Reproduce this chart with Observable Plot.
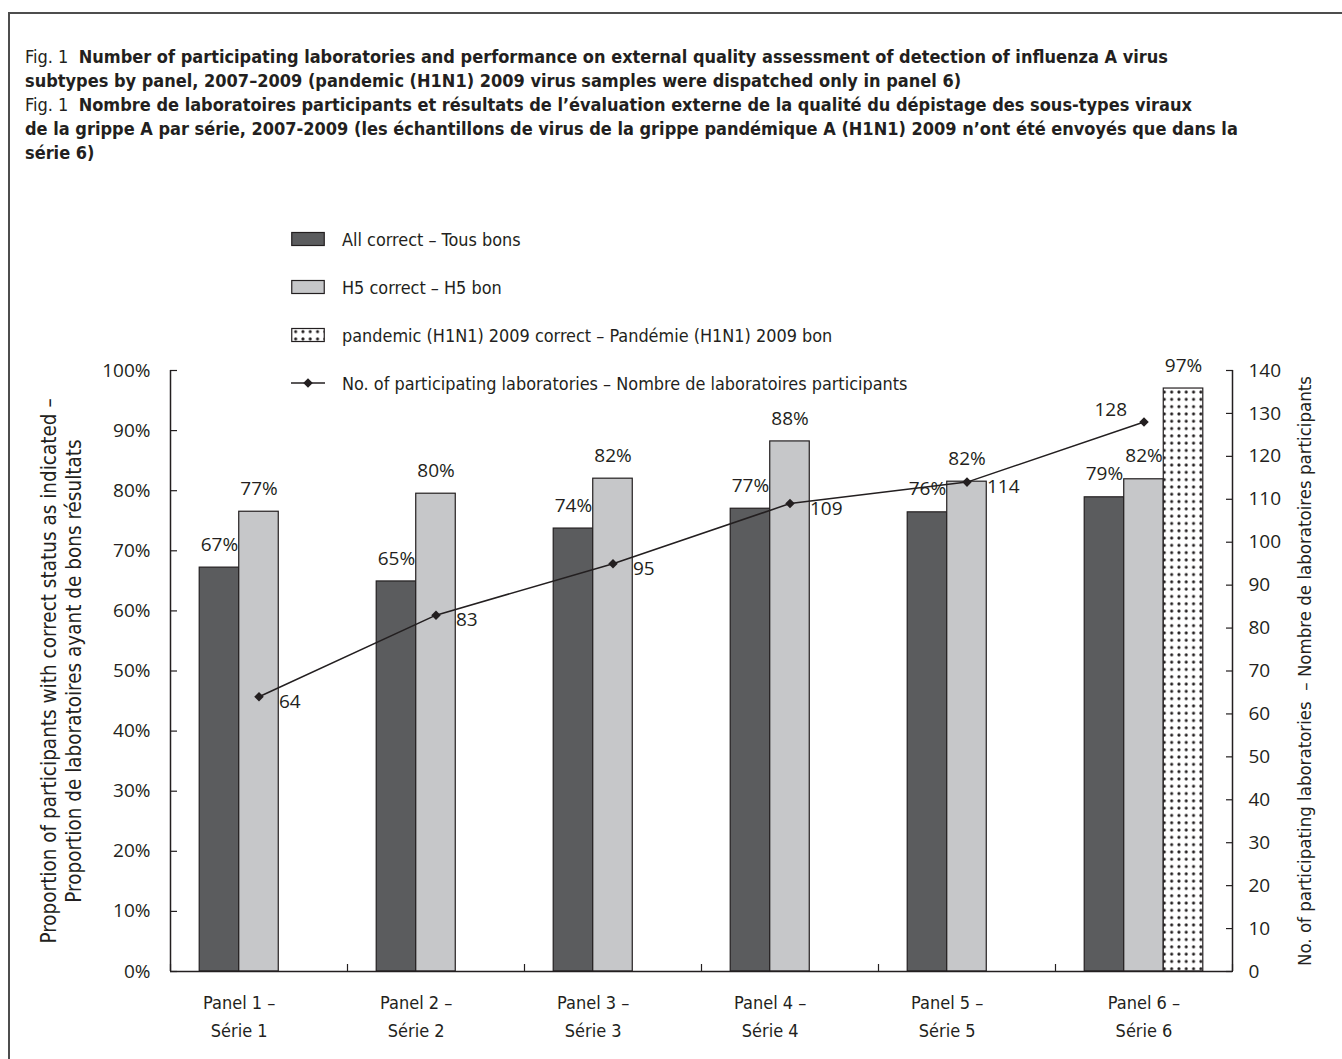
<!DOCTYPE html>
<html>
<head>
<meta charset="utf-8">
<script src="https://cdn.jsdelivr.net/npm/d3@7"></script>
<script src="https://cdn.jsdelivr.net/npm/@observablehq/plot@0.6"></script>
<style>
  html, body { margin: 0; padding: 0; background: #fff; }
  body { width: 1342px; height: 1059px; position: relative; overflow: hidden; color: #231f20; }
  .cond { font-family: "Liberation Sans Narrow", "DejaVu Sans Condensed", "Arial Narrow", sans-serif; font-stretch: condensed; }
  #frame { position: absolute; left: 8px; top: 12px; width: 1400px; height: 1100px;
           border-left: 2px solid #4d4d4d; border-top: 2px solid #4d4d4d; }
  #title { position: absolute; left: 25px; top: 45px; font-size: 18px; line-height: 24px; white-space: nowrap; }
  #title b { font-weight: bold; }
  #legend { position: absolute; left: 291px; top: 215px; font-size: 17.9px; z-index: 2; }
  .lrow { height: 48px; display: flex; align-items: center; white-space: nowrap; }
  .lrow svg { margin-right: 17px; flex: none; }
  #chart { position: absolute; left: 0; top: 330px; }
</style>
</head>
<body>
<div id="frame"></div>
<div id="title" class="cond"></div>
<div id="legend" class="cond"></div>
<div id="chart"></div>
<script>
// ---------------- data ----------------
const panelLabels = ["Panel 1 –\nSérie 1", "Panel 2 –\nSérie 2", "Panel 3 –\nSérie 3", "Panel 4 –\nSérie 4", "Panel 5 –\nSérie 5", "Panel 6 –\nSérie 6"];
const allCorrect = [67.2, 64.9, 73.7, 77.0, 76.4, 78.9];
const h5Correct = [76.5, 79.5, 82.0, 88.2, 81.5, 81.9];
const pandemicCorrect = [null, null, null, null, null, 97.0];
const participatingLabs = [64, 83, 95, 109, 114, 128];
const pctTicks = [0, 10, 20, 30, 40, 50, 60, 70, 80, 90, 100];
const labTicks = [0, 10, 20, 30, 40, 50, 60, 70, 80, 90, 100, 110, 120, 130, 140];
const seriesNames = ["All correct – Tous bons", "H5 correct – H5 bon", "pandemic (H1N1) 2009 correct – Pandémie (H1N1) 2009 bon"];
const lineName = "No. of participating laboratories – Nombre de laboratoires participants";
const leftTitle = "Proportion of participants with correct status as indicated –\nProportion de laboratoires ayant de bons résultats";
const rightTitle = "No. of participating laboratories  – Nombre de laboratoires participants";
const titleLines = [
  ["Fig. 1", "Number of participating laboratories and performance on external quality assessment of detection of influenza A virus"],
  ["", "subtypes by panel, 2007–2009 (pandemic (H1N1) 2009 virus samples were dispatched only in panel 6)"],
  ["Fig. 1", "Nombre de laboratoires participants et résultats de l’évaluation externe de la qualité du dépistage des sous-types viraux"],
  ["", "de la grippe A par série, 2007-2009 (les échantillons de virus de la grippe pandémique A (H1N1) 2009 n’ont été envoyés que dans la"],
  ["", "série 6)"]
];

// ---------------- styles ----------------
const ink = "#231f20";
const fills = ["#5b5c5e", "#c6c7c9", "url(#dots)"];
const condFont = '"Liberation Sans Narrow", "DejaVu Sans Condensed", "Arial Narrow", sans-serif';
const numFont = '"Open Sans", "DejaVu Sans", sans-serif';
const slotW = 0.2233, groupHalf = 1.5 * slotW;
const labMax = 140;
const dotStep = 7.3, dotR = 1.55;

// ---------------- title ----------------
const titleEl = document.getElementById("title");
titleLines.forEach(([pre, txt]) => {
  const div = document.createElement("div");
  if (pre) { const s = document.createElement("span"); s.textContent = pre + "  "; s.style.whiteSpace = "pre"; div.appendChild(s); }
  const b = document.createElement("b"); b.textContent = txt; div.appendChild(b);
  titleEl.appendChild(div);
});

// ---------------- legend ----------------
const legendEl = document.getElementById("legend");
function swatch(kind, i) {
  const s = d3.create("svg").attr("width", 34).attr("height", 16);
  if (kind === "bar") {
    if (i === 2) {
      const p = s.append("defs").append("pattern").attr("id", "dotsLegend").attr("patternUnits", "userSpaceOnUse")
        .attr("width", dotStep).attr("height", dotStep).attr("x", 1).attr("y", 1);
      p.append("rect").attr("width", dotStep).attr("height", dotStep).attr("fill", "#fff");
      p.append("circle").attr("cx", dotStep / 2).attr("cy", dotStep / 2).attr("r", dotR).attr("fill", ink);
    }
    s.append("rect").attr("x", 0.75).attr("y", 1.5).attr("width", 32.5).attr("height", 13)
      .attr("fill", i === 2 ? "url(#dotsLegend)" : fills[i]).attr("stroke", ink).attr("stroke-width", 1.2);
  } else {
    s.append("line").attr("x1", 0).attr("x2", 34).attr("y1", 8).attr("y2", 8).attr("stroke", ink).attr("stroke-width", 1.5);
    s.append("path").attr("d", d3.symbol(d3.symbolDiamond2, 58)()).attr("transform", "translate(17,8)").attr("fill", ink);
  }
  return s.node();
}
seriesNames.forEach((name, i) => {
  const row = document.createElement("div"); row.className = "lrow";
  row.appendChild(swatch("bar", i));
  const t = document.createElement("span"); t.textContent = name; row.appendChild(t);
  legendEl.appendChild(row);
});
{
  const row = document.createElement("div"); row.className = "lrow";
  row.appendChild(swatch("line"));
  const t = document.createElement("span"); t.textContent = lineName; row.appendChild(t);
  legendEl.appendChild(row);
}

// ---------------- tables ----------------
const seriesValues = [allCorrect, h5Correct, pandemicCorrect];
const bars = [];
panelLabels.forEach((p, i) => {
  seriesValues.forEach((vals, s) => {
    if (vals[i] != null) {
      const x1 = (i + 1) - groupHalf + s * slotW;
      bars.push({panel: i + 1, slot: s, value: vals[i], x1, x2: x1 + slotW, xc: x1 + slotW / 2});
    }
  });
});
const panelsData = panelLabels.map((name, i) => {
  const own = bars.filter(b => b.panel === i + 1);
  return {name, labelX: d3.mean(own, b => b.xc)};
});
const labData = participatingLabs.map((v, i) => ({panel: i + 1, labs: v, yv: v / labMax * 100, last: i === participatingLabs.length - 1}));
const xDomain = [0.5, panelLabels.length + 0.5];
const boundaries = d3.range(xDomain[0], xDomain[1] + 0.01, 1);

// ---------------- chart ----------------
const chart = Plot.plot({
  width: 1342,
  height: 729,
  marginLeft: 170,
  marginRight: 110,
  marginTop: 40,
  marginBottom: 88,
  x: {type: "linear", domain: xDomain, axis: null},
  y: {domain: [0, 100], axis: null},
  style: {background: "transparent", color: ink, fontFamily: numFont, fontSize: "19px", overflow: "visible"},
  marks: [
    () => {
      const defs = d3.create("svg:defs");
      const p = defs.append("pattern").attr("id", "dots").attr("patternUnits", "userSpaceOnUse")
        .attr("width", dotStep).attr("height", dotStep);
      p.append("rect").attr("width", dotStep).attr("height", dotStep).attr("fill", "#fff");
      p.append("circle").attr("cx", dotStep / 2).attr("cy", dotStep / 2).attr("r", dotR).attr("fill", ink);
      return defs.node();
    },
    ...[0, 1, 2].map(s => Plot.rectY(bars.filter(b => b.slot === s), {
      x1: "x1", x2: "x2", y1: 0, y2: "value", fill: fills[s], stroke: ink, strokeWidth: 1.2
    })),
    Plot.text(bars, {x: "xc", y: "value", text: d => Math.round(d.value) + "%", dy: -23, fontSize: 19, fill: ink}),
    Plot.line(labData, {x: "panel", y: "yv", stroke: ink, strokeWidth: 1.5}),
    Plot.dot(labData, {x: "panel", y: "yv", symbol: "diamond2", r: 4.3, fill: ink, stroke: null}),
    Plot.text(labData.filter(d => !d.last), {x: "panel", y: "yv", text: "labs", textAnchor: "start", dx: 20, dy: 5, fontSize: 19, fill: ink}),
    Plot.text(labData.filter(d => d.last), {x: "panel", y: "yv", text: "labs", textAnchor: "end", dx: -17, dy: -12, fontSize: 19, fill: ink}),
    // axis lines
    Plot.ruleX(xDomain, {stroke: ink, strokeWidth: 1.5}),
    Plot.ruleY([0], {stroke: ink, strokeWidth: 1.5}),
    // axes
    Plot.axisY(pctTicks, {anchor: "left", tickSize: 7, dx: 7, tickPadding: 20, tickFormat: d => d + "%", label: null, fontSize: 19, stroke: ink, strokeWidth: 1.2}),
    Plot.axisY(labTicks.map(v => v / labMax * 100), {anchor: "right", tickSize: 7, dx: -7, tickPadding: 16, tickFormat: v => Math.round(v * labMax / 100), label: null, fontSize: 19, stroke: ink, strokeWidth: 1.2}),
    Plot.axisX(boundaries, {anchor: "bottom", tickSize: 7, dy: -7, tickFormat: () => "", label: null, stroke: ink, strokeWidth: 1.2}),
    Plot.text(panelsData, {x: "labelX", text: "name", frameAnchor: "bottom", lineAnchor: "middle", dy: 43, lineHeight: 1.55, fontSize: 18, fontFamily: condFont, fill: ink}),
    // axis titles
    Plot.text([leftTitle], {frameAnchor: "left", textAnchor: "middle", lineAnchor: "middle", rotate: -90, dx: -110, lineHeight: 1.2, fontSize: 20.5, fontFamily: condFont, fill: ink}),
    Plot.text([rightTitle], {frameAnchor: "right", textAnchor: "middle", lineAnchor: "middle", rotate: -90, dx: 73, fontSize: 18.5, fontFamily: condFont, fill: ink})
  ]
});
document.getElementById("chart").appendChild(chart);
</script>
</body>
</html>
